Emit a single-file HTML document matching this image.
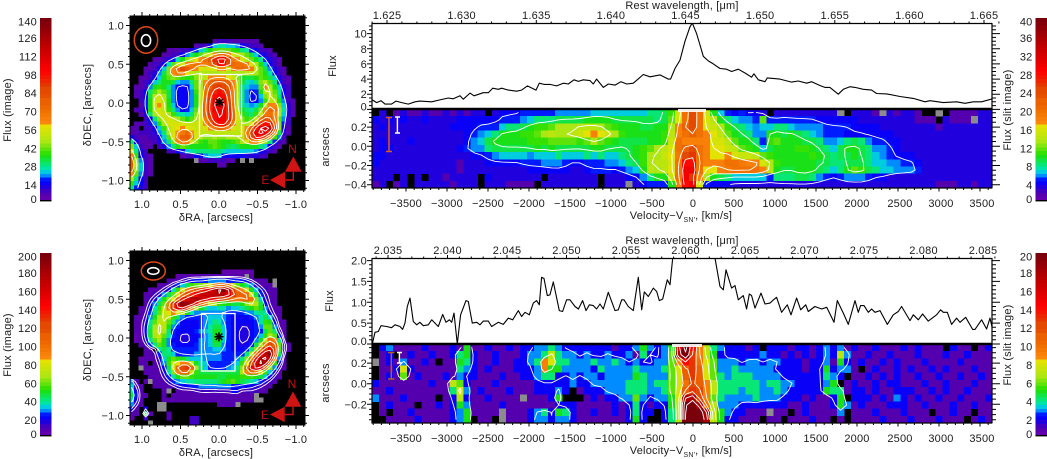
<!DOCTYPE html>
<html lang="en">
<head>
<meta charset="utf-8">
<title>Flux maps and slit spectra</title>
<style>
html,body{margin:0;padding:0;background:#fff;width:1047px;height:459px;overflow:hidden}
svg{display:block}
text{font-family:"Liberation Sans",sans-serif;font-size:11px;fill:#1c1c1c;letter-spacing:.2px}
</style>
</head>
<body>
<svg id="fig" xmlns="http://www.w3.org/2000/svg" width="1047" height="459" viewBox="0 0 1047 459">
  <rect x="0" y="0" width="1047" height="459" fill="#fff"/>
  <defs>
    <clipPath id="clipLine1"><rect x="372" y="24" width="620" height="85"/></clipPath>
    <clipPath id="clipLine2"><rect x="372" y="258" width="620" height="86"/></clipPath>
    <clipPath id="clipMap1"><rect x="130" y="16" width="175" height="174"/></clipPath>
    <clipPath id="clipMap2"><rect x="130" y="251" width="175" height="174"/></clipPath>
    <clipPath id="clipSlit1"><rect x="372" y="109" width="620" height="79"/></clipPath>
    <clipPath id="clipSlit2"><rect x="372" y="344" width="620" height="79"/></clipPath>
  </defs>
  <g id="layerHeat"></g>
  <g id="layerContour"></g>
  <g id="layerAxis"></g>

  <text transform="translate(11,110) rotate(-90)" text-anchor="middle">Flux (image)</text>
  <text transform="translate(11,345) rotate(-90)" text-anchor="middle">Flux (image)</text>
  <text transform="translate(1011,110) rotate(-90)" text-anchor="middle">Flux (slit image)</text>
  <text transform="translate(1011,345) rotate(-90)" text-anchor="middle">Flux (slit image)</text>

  <text transform="translate(91,105) rotate(-90)" text-anchor="middle">δDEC, [arcsecs]</text>
  <text transform="translate(91,340) rotate(-90)" text-anchor="middle">δDEC, [arcsecs]</text>
  <text x="216" y="221" text-anchor="middle">δRA, [arcsecs]</text>
  <text x="216" y="456" text-anchor="middle">δRA, [arcsecs]</text>

  <text x="682" y="9" text-anchor="middle">Rest wavelength, [μm]</text>
  <text x="682" y="244" text-anchor="middle">Rest wavelength, [μm]</text>
  <text x="681" y="219" text-anchor="middle">Velocity−V<tspan font-size="7" dy="3">SN'</tspan><tspan dy="-3">, [km/s]</tspan></text>
  <text x="681" y="454" text-anchor="middle">Velocity−V<tspan font-size="7" dy="3">SN'</tspan><tspan dy="-3">, [km/s]</tspan></text>

  <text transform="translate(336,66) rotate(-90)" text-anchor="middle">Flux</text>
  <text transform="translate(333,301) rotate(-90)" text-anchor="middle">Flux</text>
  <text transform="translate(329,147) rotate(-90)" text-anchor="middle">arcsecs</text>
  <text transform="translate(329,383) rotate(-90)" text-anchor="middle">arcsecs</text>

  <g id="overlayH">
    <ellipse cx="146" cy="40" rx="11.7" ry="13.3" fill="none" stroke="#e0481a" stroke-width="1.5"/>
    <ellipse cx="146" cy="40.5" rx="4.6" ry="5.8" fill="none" stroke="#fff" stroke-width="1.6"/>
    <rect x="199.5" y="74.5" width="42" height="61.5" fill="none" stroke="#fff" stroke-width="1.3"/>
    <path d="M215 102.4H224M219.5 98V107M216.2 99.2L222.8 105.6M222.8 99.2L216.2 105.6" stroke="#000" stroke-width="1.5" fill="none"/>
    <path d="M293.3 156.5L285 171.7H301.7Z" fill="#d01414"/>
    <path d="M270 180L285 171.7V188.3Z" fill="#d01414"/>
    <path d="M285 180H293.3V171.7" fill="none" stroke="#d01414" stroke-width="1.4"/>
    <text x="292.5" y="153" text-anchor="middle" style="fill:#c01010;font-size:12px">N</text>
    <text x="265.5" y="184" text-anchor="middle" style="fill:#c01010;font-size:12px">E</text>
  </g>
  <g id="overlayK">
    <ellipse cx="153.3" cy="271" rx="12" ry="9" fill="none" stroke="#e0481a" stroke-width="1.5"/>
    <ellipse cx="153.3" cy="271" rx="5.6" ry="3.3" fill="none" stroke="#fff" stroke-width="1.6"/>
    <rect x="201.5" y="313.5" width="33.5" height="57.5" fill="none" stroke="#fff" stroke-width="1.3"/>
    <path d="M214.5 336.8H223.5M219 332.4V341.4M215.7 333.6L222.3 340M222.3 333.6L215.7 340" stroke="#000" stroke-width="1.5" fill="none"/>
    <path d="M293 391.5L284.7 406.7H301.3Z" fill="#d01414"/>
    <path d="M270 414.5L284.7 406.7V422.3Z" fill="#d01414"/>
    <path d="M284.7 414.5H293V406.7" fill="none" stroke="#d01414" stroke-width="1.4"/>
    <text x="292" y="388" text-anchor="middle" style="fill:#c01010;font-size:12px">N</text>
    <text x="265" y="419" text-anchor="middle" style="fill:#c01010;font-size:12px">E</text>
  </g>
  <g>
    <path d="M386 117.5H392M389 117.5V151.5M386 151.5H392" stroke="#dd5a18" stroke-width="1.5" fill="none"/>
    <path d="M395 117H400M397.4 117V133M395 133H400" stroke="#fff" stroke-width="1.4" fill="none"/>
    <path d="M388 352.5H394.5M391.3 352.5V379M388 379H394.5" stroke="#b85a28" stroke-width="1.5" fill="none"/>
    <path d="M397 352.5H402M399.4 352.5V363M397 363H402" stroke="#fff" stroke-width="1.4" fill="none"/>
    <rect x="678" y="109" width="28" height="3" fill="#fff" opacity=".9"/>
    <rect x="672" y="344" width="30" height="3" fill="#fff" opacity=".9"/>
  </g>
</svg>
<script>
// ---------- axis tick labels ----------
const raTicks = [1.0, 0.5, 0.0, -0.5, -1.0];
const decTicks = [1.0, 0.5, 0.0, -0.5, -1.0];
const velocityTicks = [-3500, -3000, -2500, -2000, -1500, -1000, -500, 0, 500, 1000, 1500, 2000, 2500, 3000, 3500];
const wavelengthTicksH = [1.625, 1.630, 1.635, 1.640, 1.645, 1.650, 1.655, 1.660, 1.665];
const wavelengthTicksK = [2.035, 2.040, 2.045, 2.050, 2.055, 2.060, 2.065, 2.070, 2.075, 2.080, 2.085];
const fluxTicksH = [0, 2, 4, 6, 8, 10];
const fluxTicksK = [0.0, 0.5, 1.0, 1.5, 2.0];
const slitTicksH = [0.2, 0.0, -0.2, -0.4];
const slitTicksK = [0.2, 0.0, -0.2];
const barTicksMapH = [140, 126, 112, 98, 84, 70, 56, 42, 28, 14, 0];
const barTicksMapK = [200, 180, 160, 140, 120, 100, 80, 60, 40, 20, 0];
const barTicksSlitH = [40, 36, 32, 28, 24, 20, 16, 12, 8, 4, 0];
const barTicksSlitK = [20, 18, 16, 14, 12, 10, 8, 6, 4, 2, 0];

// ---------- integrated spectra: velocity (km/s) and flux ----------
const velocityH = [-3911,-3858,-3805,-3756,-3675,-3622,-3553,-3472,-3390,-3330,-3187,-3086,-2984,-2923,-2842,-2801,-2720,-2671,-2557,-2496,-2443,-2374,-2333,-2252,-2151,-2090,-2020,-1915,-1874,-1817,-1744,-1663,-1582,-1521,-1451,-1398,-1338,-1256,-1216,-1175,-1094,-1033,-951,-878,-809,-728,-606,-525,-403,-301,-273,-220,-159,-98,-37,-9,44,85,126,187,248,329,410,471,552,634,715,743,796,878,906,1060,1203,1284,1386,1447,1548,1609,1670,1772,1833,1914,1975,2077,2178,2239,2361,2524,2687,2829,2890,3052,3215,3317,3418,3520,3650];
const fluxH = [1.25,0.9,1.15,0.7,0.7,1.1,0.9,0.7,1.0,1.1,1.0,1.25,1.5,1.4,1.8,1.35,2.15,1.8,2.2,2.2,2.8,2.65,2.8,2.55,2.4,2.55,3.1,2.55,3.45,3.3,3.3,3.1,3.45,3.35,3.9,3.7,3.9,3.8,3.35,4.0,2.9,3.35,3.2,3.65,3.35,3.45,4.6,4.3,4.55,4.0,4.0,5.4,6.5,9.0,10.9,11.4,10.0,8.5,7.0,6.4,6.0,5.4,5.3,5.0,5.3,4.8,4.25,4.7,3.9,3.65,4.15,4.0,3.6,3.75,3.45,3.65,3.15,2.9,2.9,2.0,2.65,3.0,2.9,2.65,2.55,2.1,2.05,1.7,1.45,1.0,1.15,0.9,1.0,0.8,1.0,1.0,1.4];
const velocityK = [-3911,-3878,-3838,-3805,-3736,-3675,-3634,-3573,-3541,-3512,-3484,-3451,-3411,-3370,-3330,-3289,-3228,-3187,-3106,-3053,-3012,-2972,-2943,-2915,-2874,-2834,-2768,-2740,-2691,-2638,-2598,-2557,-2496,-2456,-2374,-2313,-2252,-2199,-2130,-2090,-2049,-1996,-1947,-1907,-1874,-1846,-1817,-1777,-1744,-1704,-1630,-1590,-1541,-1500,-1439,-1398,-1346,-1305,-1264,-1216,-1175,-1134,-1094,-1033,-951,-911,-870,-842,-789,-728,-667,-626,-594,-545,-484,-443,-411,-370,-313,-281,-248,-100,0,150,268,329,369,402,471,512,552,613,654,687,715,756,829,878,939,971,1020,1081,1150,1195,1264,1313,1374,1406,1487,1569,1630,1719,1760,1833,1894,1975,2016,2044,2085,2138,2178,2219,2280,2369,2443,2504,2544,2646,2687,2748,2800,2870,2971,3020,3052,3101,3154,3215,3256,3325,3410,3439,3520,3581,3622,3650];
const fluxK = [0,0.28,0.3,0.44,0.42,0.39,0.46,0.42,0.35,0.5,0.9,1.1,0.54,0.46,0.52,0.44,0.46,0.58,0.42,0.71,0.52,0.58,0.52,0.74,0,0.7,1.04,1.02,0.5,0.52,0.46,0.55,0.55,0.42,0.52,0.47,0.62,0.58,0.8,0.66,0.76,0.7,0.98,1.04,0.94,1.6,1.57,1.16,1.18,1.49,0.8,0.78,1.06,1.06,0.9,0.84,1.04,0.8,0.94,0.92,0.84,0.96,0.84,1.24,0.8,0.82,1.06,1.06,0.9,0.8,1.6,0.82,1.25,1.14,1.34,1.26,1.04,1.08,1.54,1.42,2.06,4,6,4,2.06,1.38,1.3,1.78,1.34,1.4,1.06,1.16,0.84,1.2,1.16,0.86,1.22,0.96,0.98,1.04,1.12,0.76,0.94,0.7,1.1,0.82,0.94,0.78,0.9,0.84,0.88,0.52,1.04,0.74,0.47,1.04,0.76,0.92,0.92,0.76,0.84,0.76,0.8,0.47,0.7,0.78,0.9,0.56,0.7,0.58,0.72,0.55,0.7,0.82,0.76,0.76,0.47,0.62,0.52,0.64,0.35,0.35,0.58,0.36,0.62,0.38];

// ---------- image maps: flux per spaxel (0 = no data/black, -1 = flagged/grey) ----------
const mapRowsH = [
[],[],[],[],[],
[0,0,0,0,0,0,0,0,0,0,0,0,0,0,0,0,0,0,6,8,8,8,7,6,7,6,6,5],
[0,0,0,0,0,0,0,0,0,0,0,0,0,0,6,8,10,14,22,26,26,24,22,20,16,12,10,8,6],
[0,0,0,0,0,0,0,0,5,6,7,8,10,12,18,24,30,36,40,42,42,40,38,34,30,26,18,14,10,8,5],
[0,0,0,0,0,0,0,6,7,8,10,14,20,28,34,42,50,56,64,72,72,64,56,50,46,40,32,24,16,12,8,6],
[0,0,0,0,0,6,7,9,12,18,26,34,44,50,58,62,70,78,92,100,104,88,68,62,56,48,42,34,26,18,12,8,6],
[0,0,0,0,6,8,10,16,26,40,50,56,62,68,70,66,66,70,88,98,100,84,72,70,70,66,56,46,36,24,14,9,7],
[0,0,0,6,7,9,14,24,44,62,72,84,78,70,60,54,52,54,56,60,60,56,66,74,72,70,66,52,42,32,20,12,8,6],
[0,0,0,6,8,12,20,32,44,60,66,64,58,50,46,46,46,48,48,48,50,48,46,48,48,50,52,46,42,34,26,16,10,7],
[0,0,5,7,10,16,24,34,40,44,42,38,36,38,44,46,50,60,62,62,62,58,52,44,36,32,32,34,40,38,32,22,12,8,6],
[0,0,6,8,12,22,30,36,36,32,24,19,19,30,42,48,60,72,80,82,80,74,60,46,34,26,24,30,44,50,40,30,18,10,7],
[0,5,7,10,20,34,38,36,30,20,16,15,15,24,40,50,66,80,88,90,86,80,64,46,30,22,19,20,42,62,46,36,22,12,8],
[0,5,8,14,28,42,46,40,32,19,16,15,15,20,38,50,70,84,94,100,94,84,68,48,30,20,16,17,36,50,50,40,26,16,8],
[0,5,8,16,32,50,54,46,32,19,16,15,15,19,36,50,72,88,100,104,100,86,68,48,28,19,16,15,24,44,52,44,30,18,8],
[0,0,8,18,36,54,56,48,34,20,16,15,15,19,36,52,74,90,106,112,106,88,68,48,28,19,16,15,20,38,50,50,36,20,10,6],
[0,0,7,18,36,54,62,54,36,22,16,15,16,19,36,54,76,92,106,112,108,90,70,48,30,22,20,24,34,50,64,62,44,24,12,7],
[0,5,8,16,34,52,56,50,38,28,20,16,18,22,40,56,76,94,104,108,104,92,72,50,34,28,26,32,44,62,72,66,48,26,12,7],
[0,0,7,12,28,46,54,52,46,38,30,26,22,28,44,56,72,90,100,106,106,92,74,54,38,32,30,38,52,66,70,60,46,24,12,6],
[0,0,0,8,16,30,44,52,54,52,46,40,36,40,48,56,68,84,100,106,106,94,72,54,44,38,40,52,72,84,80,62,42,20,10],
[0,6,7,8,12,20,34,46,54,56,56,54,52,52,52,54,62,74,92,100,100,86,66,52,46,48,56,72,92,100,96,72,44,18,8],
[6,7,0,9,10,14,24,38,50,56,58,60,58,56,52,52,54,60,68,72,72,64,56,52,52,60,76,96,108,114,118,84,44,16,7],
[5,7,8,8,8,12,20,30,46,56,62,68,72,62,54,50,50,50,50,50,50,50,50,50,52,66,88,108,112,106,90,62,32,12,6],
[16,8,7,7,8,10,14,24,40,58,68,76,78,68,54,46,44,44,46,44,44,46,48,48,50,62,84,100,96,84,64,38,20,9],
[30,14,7,7,7,9,12,20,30,44,60,68,66,54,44,38,36,40,42,38,36,36,38,42,46,54,60,62,54,44,30,18,10,6],
[44,22,8,7,6,0,10,12,20,28,36,40,38,36,34,34,34,38,42,38,34,32,30,32,34,36,36,34,30,24,16,10,7],
[58,30,12,8,0,0,0,0,8,10,14,18,22,26,28,30,30,30,30,28,26,24,24,24,24,24,22,20,16,12,8,6],
[68,38,14,8,5,0,0,0,0,0,0,6,8,10,14,16,20,24,24,22,16,14,14,14,14,12,12,12,10,8],
[76,48,20,10,5,0,0,0,0,0,0,0,0,0,-1,6,7,8,9,8,8,7,6,0,-1,0,-1],
[80,52,24,10,6,0,0,0,0,0,0,0,0,0,0,0,0,0,0,6,7],
[76,48,24,10,6],
[62,42,20,10,7],
[46,30,16,9],
[38,22,14,8],
[30,18,12,8]
];
const mapRowsK = [
[],[],[],[],
[0,0,0,0,0,0,0,0,0,0,0,0,0,0,0,0,0,0,0,0,6,6,6,6,6,6,6],
[0,0,0,0,0,0,0,0,0,0,6,8,8,8,8,8,8,8,8,8,8,8,8,8,8,-1,8],
[0,0,0,0,0,0,0,0,7,8,10,12,16,22,24,24,26,28,30,30,28,26,26,24,24,20,14,10,8,7,0,-1],
[0,0,0,0,0,0,8,10,12,18,26,34,44,54,60,64,68,80,96,110,110,90,70,60,50,40,28,16,10,8,7,-1],
[0,0,0,0,7,8,10,14,22,36,56,76,92,104,116,130,144,156,176,196,190,160,126,100,88,72,52,32,20,12,9,8],
[0,0,0,7,9,12,16,28,44,60,80,100,120,132,150,166,170,170,172,178,176,160,130,110,110,100,74,44,24,14,10,8],
[0,0,0,8,12,18,34,48,64,84,110,136,158,176,180,170,160,150,140,126,122,112,100,96,100,110,100,64,34,18,10,8],
[0,0,0,8,16,28,44,60,90,130,170,190,185,170,140,110,90,76,66,56,52,50,46,46,50,62,76,66,44,22,12,8],
[0,0,7,10,20,38,54,70,96,130,160,160,130,90,66,48,40,34,34,36,36,30,32,34,36,44,52,58,50,28,14,9,7],
[0,0,7,12,24,40,58,74,84,90,80,66,50,38,30,28,28,30,30,30,28,26,26,26,26,28,30,38,42,36,20,10,7],
[0,7,8,14,30,48,66,76,70,56,44,30,24,24,24,26,28,32,34,32,28,24,22,22,22,22,24,28,38,44,34,14,8],
[0,7,10,18,36,58,72,72,58,42,28,22,22,22,22,24,28,34,40,38,30,24,22,20,20,22,22,24,36,56,52,20,9,7],
[0,7,10,20,42,66,74,70,52,30,24,22,22,22,22,26,30,36,44,44,32,24,22,20,18,18,20,24,30,58,60,28,10,7],
[0,7,10,20,44,70,76,68,42,26,22,22,20,22,24,28,32,36,48,48,34,24,22,20,16,16,20,24,26,44,58,42,14,8],
[0,6,9,20,44,68,74,60,36,24,20,16,16,20,22,26,30,34,52,50,32,24,22,20,15,15,20,24,34,56,66,60,24,10],
[0,6,8,16,38,60,68,52,30,22,20,15,15,20,22,28,30,34,50,48,32,24,22,20,16,18,22,30,52,76,100,90,40,12],
[0,0,8,12,24,42,60,50,30,24,22,20,20,22,24,30,30,34,46,44,30,24,22,20,18,20,24,44,72,100,120,110,60,16,7],
[0,0,0,8,10,0,36,46,36,26,24,24,24,24,26,30,30,30,34,34,28,24,22,22,22,24,40,64,100,130,150,120,60,16,7],
[0,0,0,7,9,12,24,42,42,32,26,26,26,26,28,30,30,30,30,30,26,24,24,24,26,42,66,100,140,172,190,126,46,14],
[0,0,6,7,8,10,18,34,50,60,56,48,40,34,32,32,30,28,28,28,26,24,26,28,42,64,96,140,180,184,160,90,30,10],
[0,0,7,7,0,9,14,28,56,72,84,90,90,72,52,38,32,26,24,24,24,26,30,34,56,84,120,164,192,170,110,56,20,9],
[0,0,-1,8,8,8,12,22,46,78,104,122,128,104,66,42,32,26,24,24,26,30,34,40,64,104,150,170,150,104,62,30,14,8],
[0,0,0,7,8,8,10,18,36,62,90,108,104,76,54,44,46,46,44,44,44,44,44,46,66,92,104,96,80,56,34,18,10],
[0,0,0,0,7,7,9,14,24,36,50,60,60,54,50,48,50,48,48,46,46,50,50,52,56,56,56,52,44,32,20,12,8],
[28,10,0,7,-1,7,8,10,16,24,30,34,36,38,40,40,42,40,42,44,50,56,60,50,44,40,36,32,24,16,12,8],
[34,14,7,0,0,7,7,8,10,14,18,20,22,24,24,28,28,28,30,30,30,28,26,26,24,22,20,16,14,10,8],
[36,22,8,0,0,0,0,7,-1,0,8,10,9,10,12,14,14,14,12,14,14,14,20,20,10,12,14,12,10,8],
[44,24,8,7,0,0,0,7,0,7,7,8,8,8,8,8,8,8,8,8,8,8,8,8,8,7,8,-1],
[38,22,8,0,0,0,0,8,8,8,8,8,8,8,8,8,8,8,8,8,8,8,8,8,8,8,8,-1,-1],
[30,14,7,0,0,0,-1,-1,0,0,0,0,0,0,0,0,0,0,0,7,8,8,7,-1],
[20,8,0,20,0,0,-1,-1],
[10,7,0,46,8,0,0,0,8],
[6,0,0,12,0,0,0,0,8,0,0,0,0,14,14],
[0,0,0,0,-1,0,0,0,0,0,0,0,0,12,12]
];

// ---------- slit images: flux per row and velocity bin ----------
const slitRowsH = [
[0,3,0,2,3,2,2,3,2,2,3,2,3,2,3,3,0,3,4,4,4,5,5,5,5,5,6,6,6,6,6,7,7,7,7,7,7,7,7,8,8,9,11,16,20,24,20,16,10,7,5,4,5,4,4,3,0,3,3,3,3,3,3,3,3,3,-1,0,3,3,3,2,-1,3,2,3,3,2,0,0,-1,0,2,2,2,2,3,3],
[4,3,4,3,4,3,3,4,3,3,3,3,4,4,4,4,4,4,5,5,5,6,7,8,8,8,9,9,9,9,10,10,10,10,9,9,9,9,9,9,8,9,12,16,20,24,20,16,14,10,8,7,6,6,5,12,5,5,5,5,5,5,5,4,4,4,4,4,4,3,3,3,3,3,3,3,3,2,2,2,0,3,2,2,2,-1,3,3],
[3,4,3,3,3,3,3,3,3,3,3,4,4,4,4,5,5,5,7,8,8,9,10,11,11,12,13,13,13,14,14,14,13,12,11,10,10,10,9,9,10,10,13,18,22,24,20,16,15,13,11,9,8,7,6,7,7,8,8,7,6,6,6,6,5,5,5,5,4,4,4,4,3,3,3,3,3,3,3,3,2,3,3,3,3,3,3,3],
[3,3,3,3,3,3,3,3,3,3,3,3,3,4,5,6,7,8,10,10,10,11,11,12,13,14,13,13,14,15,17,18,17,15,13,11,10,10,10,10,10,11,14,18,20,22,20,18,17,14,12,10,9,8,6,6,10,10,9,10,9,8,7,6,5,5,5,4,4,4,4,4,4,4,3,3,3,3,3,3,3,3,3,3,3,3,3,3],
[3,4,3,3,3,4,3,3,3,3,3,3,3,4,6,7,9,10,10,10,10,10,11,11,11,12,12,12,12,11,12,13,12,11,10,9,9,9,9,10,10,11,15,20,18,18,18,18,16,16,14,12,10,10,8,5,11,12,10,10,10,9,9,8,6,6,7,8,9,8,6,5,5,4,4,3,3,3,3,3,3,3,3,3,3,3,3,3],
[3,4,4,3,3,3,3,3,3,3,3,3,4,5,6,6,8,9,9,9,9,9,9,10,9,10,9,9,9,9,9,10,10,9,9,9,9,10,11,12,13,14,16,20,22,24,20,18,17,17,15,14,12,11,10,7,9,10,10,10,11,11,10,9,8,7,9,10,10,9,8,6,6,5,4,3,3,3,3,3,3,3,3,3,3,3,3,3],
[4,4,3,3,3,3,3,3,3,3,3,3,3,3,4,4,5,6,7,7,7,7,6,7,7,7,8,7,7,7,8,7,8,7,7,8,9,10,11,13,13,15,17,19,24,26,20,18,17,17,18,16,15,15,14,12,11,10,10,10,10,10,11,10,9,8,9,9,10,9,8,7,6,5,4,4,4,3,3,3,3,3,3,3,3,3,3,3],
[4,3,3,3,3,3,3,3,3,3,3,3,2,3,3,3,4,4,4,4,4,5,5,5,6,6,6,5,4,4,5,5,5,6,6,7,8,9,11,13,14,14,16,20,28,28,20,18,18,18,20,20,19,18,18,16,13,11,10,10,10,10,10,9,9,8,8,9,9,9,8,7,7,6,6,5,5,4,3,3,3,3,3,3,3,3,3,3],
[3,3,3,3,3,3,3,3,3,3,3,3,2,3,3,3,3,3,3,3,3,3,4,4,4,4,4,4,3,3,4,5,5,5,4,5,6,7,10,14,13,14,17,20,30,30,20,17,17,18,19,20,20,20,20,18,14,10,9,9,10,10,10,9,8,7,8,10,12,11,9,8,7,7,6,6,6,5,3,3,3,3,3,3,3,3,3,3],
[3,3,3,0,3,0,3,0,3,3,2,3,3,3,3,0,4,3,3,3,3,3,3,3,0,3,3,3,3,3,3,3,0,3,3,3,4,4,6,8,10,10,15,20,30,26,18,13,10,9,8,7,7,7,7,7,5,8,8,8,9,9,8,6,5,4,5,6,6,6,5,4,4,3,3,3,3,3,3,3,3,3,3,3,3,3,3,3],
[2,3,0,2,3,0,3,3,3,3,3,2,3,3,3,0,3,3,3,2,2,2,2,0,3,3,3,3,3,3,3,3,0,3,3,3,-1,3,4,5,5,5,10,18,28,30,16,5,4,4,4,3,3,3,3,3,3,3,3,3,3,3,3,3,3,3,3,3,3,3,3,3,3,3,3,3,3,3,3,3,2,2,2,3,3,2,3,3]
];
const slitRowsK = [
[0,2,3,1,1,1,1,2,1,1,1,2,1,5,1,1,2,1,1,2,1,2,2,3,3,4,3,2,2,2,2,2,2,2,1,2,2,3,5,3,2,3,5,16,20,14,9,7,4,3,2,2,2,1,2,0,2,2,2,1,2,2,1,2,3,2,3,1,2,1,1,2,1,1,1,2,1,2,1,1,1,0,2,1,1,0,1,2],
[0,1,2,0,1,2,1,1,2,1,1,2,4,5,2,1,1,2,1,1,1,2,3,3,4,7,4,3,3,2,3,2,2,3,2,2,3,1,4,2,2,3,6,18,20,13,9,7,5,2,2,2,2,2,2,3,2,2,1,2,1,2,1,2,3,2,7,3,1,1,2,1,1,2,1,1,1,2,1,1,1,2,1,1,2,1,1,1],
[-1,1,2,1,3,1,1,2,1,0,1,1,5,4,2,1,1,2,1,1,2,2,3,4,9,8,4,4,3,3,3,4,3,3,4,3,2,3,2,2,3,3,6,9,14,13,10,8,6,3,3,3,2,3,3,2,3,3,2,2,2,1,2,2,3,1,5,2,1,2,1,1,2,1,2,1,1,1,2,1,1,1,1,2,1,1,1,1],
[0,1,1,2,8,2,1,1,1,1,1,1,4,3,2,1,2,1,1,1,2,2,2,3,9,5,5,3,3,3,3,2,4,3,3,3,3,4,3,3,3,4,6,8,11,13,11,8,6,3,3,4,3,3,3,3,3,2,2,2,2,1,2,2,5,2,3,3,1,0,1,2,1,1,2,1,2,1,1,2,1,2,1,1,1,2,1,1],
[0,1,2,1,6,1,2,1,1,1,2,1,3,2,2,1,1,1,2,1,1,2,2,3,4,4,2,2,3,2,3,3,2,3,3,3,3,5,4,3,3,3,6,8,11,13,11,8,6,4,3,4,4,4,3,3,3,3,2,2,2,2,2,2,4,3,2,0,1,1,2,1,2,1,2,1,1,2,1,1,2,1,1,2,1,1,2,1],
[2,1,1,1,1,1,1,1,2,1,1,7,6,2,1,1,1,2,1,1,1,1,1,2,2,2,2,2,3,2,2,3,3,3,3,3,4,4,4,3,4,4,6,8,10,12,11,9,7,4,4,4,4,4,4,3,4,4,3,3,2,2,2,2,3,5,0,1,2,1,1,2,1,2,2,1,1,1,2,1,1,2,1,1,1,2,1,1],
[1,1,2,1,1,1,1,1,1,1,1,4,8,3,1,2,1,1,1,2,1,1,1,2,2,2,3,2,0,1,2,2,2,3,3,3,4,4,4,3,3,4,6,8,11,13,12,9,7,4,4,4,3,4,4,3,3,4,3,2,2,2,2,2,5,4,4,1,2,2,1,2,1,1,2,2,2,1,1,2,1,2,1,1,2,1,1,1],
[3,1,1,1,2,1,1,1,1,0,1,2,7,2,1,1,2,1,1,1,1,-1,1,1,1,2,5,0,0,0,1,2,1,2,2,3,3,6,3,2,3,3,5,8,18,18,12,9,6,4,3,3,3,3,4,3,3,3,2,2,2,1,2,1,1,2,5,0,2,2,2,1,2,1,3,2,1,2,1,1,2,1,1,2,1,1,1,2],
[0,1,2,1,1,1,0,1,1,2,1,2,5,3,1,1,1,1,2,1,1,1,1,1,1,1,2,2,2,1,1,1,1,1,2,1,2,4,2,1,2,2,5,7,20,20,18,10,7,3,3,3,2,2,2,2,2,2,2,1,1,2,1,1,1,2,5,3,1,2,1,1,1,2,2,2,1,1,2,1,1,1,2,1,1,2,1,1],
[0,1,0,1,1,2,1,1,1,1,1,2,3,5,1,1,1,1,-1,1,1,1,2,3,4,2,5,4,2,1,1,2,1,1,2,1,2,4,2,2,0,2,4,7,20,20,20,18,7,5,3,2,2,1,1,1,-1,1,1,0,1,2,1,1,1,1,3,0,1,1,1,2,1,1,1,2,1,1,1,0,1,1,2,1,1,0,1,1],
[0,0,1,1,1,1,2,1,1,1,1,2,3,5,0,1,1,0,-1,1,1,1,2,3,3,2,3,3,2,1,1,1,1,1,1,1,2,5,2,0,0,2,4,7,20,20,20,18,7,5,2,2,1,1,1,0,1,1,0,1,1,1,2,1,1,0,1,0,1,1,1,1,2,1,1,1,2,1,1,1,2,1,1,1,0,1,2,1]
];

// ---------- contour levels ----------
const contourLevelsMapH = [18, 48, 62, 76, 90, 104];
const contourLevelsMapK = [13, 18.5, 30, 70, 95, 120, 145, 170];
const contourLevelsSlitH = [4.6, 9, 13, 17, 21, 25];
const contourLevelsSlitK = [2.5, 5.5, 7.5, 9.5, 11.5, 13.5, 15.5, 17.5];

// ---------- colour table (fraction of max, r, g, b) ----------
const colorStops = [
  [0,112,0,170],[0.05,80,0,176],[0.1,10,0,245],[0.12,0,0,255],[0.155,0,190,255],[0.19,0,232,160],[0.26,30,224,0],
  [0.33,170,230,20],[0.425,232,226,0],[0.4251,255,140,16],[0.5,240,112,0],[0.63,224,64,0],
  [0.72,255,0,0],[0.86,190,0,0],[1,122,0,12]
];
const BAND_COUNT = 48;

const NS = 'http://www.w3.org/2000/svg';
const heatLayer = document.getElementById('layerHeat');
const contourLayer = document.getElementById('layerContour');
const axisLayer = document.getElementById('layerAxis');

function colorFor(fraction) {
  const f = Math.max(0, Math.min(1, Math.floor(fraction * BAND_COUNT + 0.5) / BAND_COUNT));
  for (let i = 1; i < colorStops.length; i++) {
    const a = colorStops[i - 1], b = colorStops[i];
    if (f <= b[0]) {
      const t = (f - a[0]) / (b[0] - a[0] || 1);
      return 'rgb(' + [1, 2, 3].map(k => Math.round(a[k] + (b[k] - a[k]) * t)).join(',') + ')';
    }
  }
  return 'rgb(122,0,12)';
}

function cellColor(value, max) {
  if (value === -1) return '#8c8c8c';
  if (!value) return '#000';
  return colorFor(value / max);
}

function addRect(parent, name, x, y, w, h, fill) {
  const el = document.createElementNS(NS, 'rect');
  
  
  el.setAttribute('x', x.toFixed(2));
  el.setAttribute('y', y.toFixed(2));
  el.setAttribute('width', w.toFixed(2));
  el.setAttribute('height', h.toFixed(2));
  el.setAttribute('fill', fill);
  el.setAttribute('shape-rendering', 'crispEdges');
  parent.appendChild(el);
  return el;
}

function addText(name, x, y, str, anchor) {
  const el = document.createElementNS(NS, 'text');
  
  
  el.setAttribute('x', x.toFixed(1));
  el.setAttribute('y', y.toFixed(1));
  el.setAttribute('text-anchor', anchor);
  el.textContent = str;
  axisLayer.appendChild(el);
  return el;
}

function addPath(parent, name, d, stroke, width, clip) {
  const el = document.createElementNS(NS, 'path');
  
  
  el.setAttribute('d', d);
  el.setAttribute('fill', 'none');
  el.setAttribute('stroke', stroke);
  el.setAttribute('stroke-width', width);
  el.setAttribute('stroke-linejoin', 'round');
  if (clip) el.setAttribute('clip-path', 'url(#' + clip + ')');
  parent.appendChild(el);
  return el;
}

// Contours are traced from the same arrays the heat cells use.
function contourPaths(rows, nCols, levels, xc, yc, name, clip) {
  const nRows = rows.length;
  const raw = rows.map(r => { const o = []; for (let c = 0; c < nCols; c++) { const v = r[c]; o.push(v > 0 ? v : 0); } return o; });
  const field = raw.map((r, i) => r.map((v, j) => {
    let sum = 0, wt = 0;
    for (let di = -1; di <= 1; di++) for (let dj = -1; dj <= 1; dj++) {
      const rr = raw[i + di]; if (!rr || rr[j + dj] === undefined) continue;
      const w = (di ? 1 : 2) * (dj ? 1 : 2); sum += rr[j + dj] * w; wt += w;
    }
    return (v * 4 + sum) / (4 + wt);
  }));
  levels.forEach(level => {
    let d = '';
    for (let i = 0; i < nRows - 1; i++) for (let j = 0; j < nCols - 1; j++) {
      const a = field[i][j], b = field[i][j + 1], c = field[i + 1][j + 1], e = field[i + 1][j];
      const pts = [];
      if ((a < level) !== (b < level)) pts.push([xc(j + (level - a) / (b - a)), yc(i)]);
      if ((b < level) !== (c < level)) pts.push([xc(j + 1), yc(i + (level - b) / (c - b))]);
      if ((e < level) !== (c < level)) pts.push([xc(j + (level - e) / (c - e)), yc(i + 1)]);
      if ((a < level) !== (e < level)) pts.push([xc(j), yc(i + (level - a) / (e - a))]);
      for (let k = 0; k + 1 < pts.length; k += 2) {
        d += 'M' + pts[k][0].toFixed(1) + ' ' + pts[k][1].toFixed(1) + 'L' + pts[k + 1][0].toFixed(1) + ' ' + pts[k + 1][1].toFixed(1);
      }
    }
    if (d) addPath(contourLayer, name, d, '#fff', 0.9, clip).setAttribute('stroke-linecap', 'round');
  });
}

function drawHeat(rows, nCols, max, left, top, cw, ch, levels, name, clip) {
  rows.forEach((row, r) => {
    for (let c = 0; c < nCols; c++) {
      const v = row[c] === undefined ? 0 : row[c];
      if (!v) continue;
      addRect(heatLayer, name + '-cell', left + c * cw, top + r * ch, cw + 0.3, ch + 0.3, cellColor(v, max));
    }
  });
  contourPaths(rows, nCols, levels, i => left + (i + 0.5) * cw, i => top + (i + 0.5) * ch, name + '-contour', clip);
}

function drawColorbar(top, ticks, max, name) {
  const left = 0;
  const barX = name.indexOf('slit') >= 0 ? 1035.5 : 40;
  const bottom = top + 182;
  for (let i = 0; i < BAND_COUNT; i++) {
    const f0 = i / BAND_COUNT;
    const h = 182 / BAND_COUNT;
    addRect(heatLayer, name + '-band', barX, bottom - (i + 1) * h, 11.5, h + 0.4, colorFor(f0 + 0.5 / BAND_COUNT));
  }
  addRect(heatLayer, name + '-floor', barX, bottom, 11.5, 1, '#000');
  addRect(heatLayer, name + '-base', barX, bottom + 1, 11.5, 1, '#999');
  const scale = v => Math.max(top + 3.7, Math.min(top + 181, top + 185.4 - (v / max) * 183.6));
  ticks.forEach(v => {
    addText(name + '-label', barX - 3 + left, scale(v) + 4, String(v), 'end');
  });
}

// ---------- axis functions ----------
const raScale = ra => 219 - 77 * ra;
const decScale = (dec, y0) => y0 - 77.5 * dec;
const velScale = v => 693 + 0.082 * v;

function tickRun(from, to, step, fn) {
  const n = Math.round((to - from) / step);
  for (let i = 0; i <= n; i++) fn(from + i * step);
}

function drawMapAxes(y0, left, right, top, bottom, suffix) {
  let d = '';
  tickRun(-1.1, 1.1, 0.1, ra => {
    const x = raScale(ra), major = Math.abs(ra * 2 - Math.round(ra * 2)) < 1e-6, len = major ? 4 : 2;
    d += 'M' + x.toFixed(1) + ' ' + top + 'v-' + len + 'M' + x.toFixed(1) + ' ' + bottom + 'v' + len;
  });
  tickRun(-1.1, 1.1, 0.1, dec => {
    const y = decScale(dec, y0), major = Math.abs(dec * 2 - Math.round(dec * 2)) < 1e-6, len = major ? 4 : 2;
    if (y < top || y > bottom) return;
    d += 'M' + left + ' ' + y.toFixed(1) + 'h-' + len + 'M' + right + ' ' + y.toFixed(1) + 'h' + len;
  });
  addPath(axisLayer, 'map-ticks-' + suffix, d, '#000', 1);
  const frame = document.createElementNS(NS, 'rect');
  
  
  frame.setAttribute('x', left);
  frame.setAttribute('y', top);
  frame.setAttribute('width', right - left);
  frame.setAttribute('height', bottom - top);
  frame.setAttribute('fill', 'none');
  frame.setAttribute('stroke', '#000');
  axisLayer.appendChild(frame);
  raTicks.forEach(v => addText('ra-tick-label', raScale(v), bottom + 18, v.toFixed(1).replace('-', '−'), 'middle'));
  decTicks.forEach(v => addText('dec-tick-label', 124, decScale(v, y0) + 4, v.toFixed(1).replace('-', '−'), 'end'));
}

function drawSpectrumPanel(cfg) {
  const L = 372, R = 992;
  const yF = f => cfg.y0 - cfg.k * f;
  const ySlit = a => cfg.slitY0 - cfg.slitK * a;
  const wl = w => cfg.wlRef + (w - cfg.wlBase) * cfg.wlK;
  let line = '';
  cfg.vel.forEach((v, i) => { line += (i ? 'L' : 'M') + velScale(v).toFixed(1) + ' ' + yF(cfg.flux[i]).toFixed(1); });
  addPath(axisLayer, 'spectrum-line-' + cfg.id, line, '#000', 1.1, cfg.clip);

  let d = '';
  tickRun(-3900, 3600, 100, v => {
    const major = v % 500 === 0, x = velScale(v).toFixed(1);
    d += 'M' + x + ' ' + cfg.slitBottom + 'v' + (major ? 3.5 : 2);
  });
  tickRun(cfg.wlFrom, cfg.wlTo, 0.001, w => {
    const major = Math.abs(w * 200 - Math.round(w * 200)) < 1e-4, x = wl(w).toFixed(1);
    d += 'M' + x + ' ' + cfg.top + 'v-' + (major ? 3.5 : 2);
  });
  tickRun(0, cfg.fluxMax, cfg.fluxMinor, f => {
    const major = Math.abs(f / cfg.fluxMajor - Math.round(f / cfg.fluxMajor)) < 1e-6, y = yF(f).toFixed(1);
    if (yF(f) < cfg.top) return;
    d += 'M' + L + ' ' + y + 'h-' + (major ? 5 : 3) + 'M' + R + ' ' + y + 'h' + (major ? 8 : 4);
  });
  tickRun(cfg.slitFrom, cfg.slitTo, 0.05, a => {
    const major = Math.abs(a * 5 - Math.round(a * 5)) < 1e-6, y = ySlit(a).toFixed(1);
    d += 'M' + L + ' ' + y + 'h-' + (major ? 5 : 3) + 'M' + R + ' ' + y + 'h' + (major ? 8 : 4);
  });
  addPath(axisLayer, 'spectrum-ticks-' + cfg.id, d, '#000', 1);
  addPath(axisLayer, 'spectrum-frame-' + cfg.id, 'M' + L + ' ' + cfg.boundary + 'V' + cfg.top + 'H' + R + 'V' + cfg.slitBottom + 'M' + L + ' ' + cfg.boundary + 'V' + cfg.slitBottom + 'H' + R, '#000', 1.2);
  addPath(axisLayer, 'spectrum-slit-divider-' + cfg.id, 'M' + L + ' ' + cfg.boundary + 'H' + R, '#000', 2.4);

  velocityTicks.forEach(v => addText('velocity-tick-label', velScale(v) + (v > 2000 ? 2 : 0), cfg.velLabelY, String(v).replace('-', '−'), 'middle'));
  cfg.wlTicks.forEach(w => addText('wavelength-tick-label', wl(w), cfg.wlLabelY, w.toFixed(3), 'middle'));
  cfg.fluxTicks.forEach(f => addText('flux-tick-label', 367, yF(f) + (f === 0 ? 1 : 4), f.toFixed(cfg.fluxDigits), 'end'));
  cfg.slitTicks.forEach(a => addText('slit-tick-label', 367, ySlit(a) + 4, a.toFixed(1).replace('-', '−'), 'end'));
}

// ---------- build ----------
const MAP_LEFT = 129.5, MAP_CELL_W = 175 / 38, MAP_CELL_H = 174 / 38;
drawHeat(mapRowsH, 38, 140, MAP_LEFT, 16, MAP_CELL_W, MAP_CELL_H, contourLevelsMapH, 'map-h', 'clipMap1');
drawHeat(mapRowsK, 38, 200, MAP_LEFT, 251, MAP_CELL_W, MAP_CELL_H, contourLevelsMapK, 'map-k', 'clipMap2');
heatLayer.insertBefore(addRect(heatLayer, 'map-background-h', 130, 16, 175, 174, '#000'), heatLayer.firstChild);
heatLayer.insertBefore(addRect(heatLayer, 'map-background-k', 130, 251, 175, 174, '#000'), heatLayer.firstChild);

const SLIT_CELL_W = 620 / 88, SLIT_CELL_H = 79 / 11;
drawHeat(slitRowsH, 88, 40, 372, 109, SLIT_CELL_W, SLIT_CELL_H, contourLevelsSlitH, 'slit-h', 'clipSlit1');
drawHeat(slitRowsK, 88, 20, 372, 344, SLIT_CELL_W, SLIT_CELL_H, contourLevelsSlitK, 'slit-k', 'clipSlit2');
heatLayer.insertBefore(addRect(heatLayer, 'slit-background-h', 372, 109, 620, 79, '#000'), heatLayer.firstChild);
heatLayer.insertBefore(addRect(heatLayer, 'slit-background-k', 372, 344, 620, 79, '#000'), heatLayer.firstChild);

drawColorbar(18, barTicksMapH, 140, 'colorbar-map-h');
drawColorbar(253, barTicksMapK, 200, 'colorbar-map-k');
drawColorbar(18, barTicksSlitH, 40, 'colorbar-slit-h');
drawColorbar(253, barTicksSlitK, 20, 'colorbar-slit-k');

drawMapAxes(103, 130, 305, 16, 190, 'h');
drawMapAxes(338, 130, 305, 251, 425, 'k');

drawSpectrumPanel({ id: 'h', vel: velocityH, flux: fluxH, clip: 'clipLine1', top: 23.5, boundary: 109, slitBottom: 188,
  y0: 109.4, k: 7.58, fluxMax: 11, fluxMinor: 0.5, fluxMajor: 2, fluxTicks: fluxTicksH, fluxDigits: 0,
  slitY0: 146.3, slitK: 96, slitFrom: -0.4, slitTo: 0.35, slitTicks: slitTicksH,
  wlRef: 387, wlBase: 1.625, wlK: 14925, wlFrom: 1.624, wlTo: 1.666, wlTicks: wavelengthTicksH,
  velLabelY: 207, wlLabelY: 19 });
drawSpectrumPanel({ id: 'k', vel: velocityK, flux: fluxK, clip: 'clipLine2', top: 258.5, boundary: 344, slitBottom: 423,
  y0: 344, k: 41.7, fluxMax: 2, fluxMinor: 0.1, fluxMajor: 0.5, fluxTicks: fluxTicksK, fluxDigits: 1,
  slitY0: 383.7, slitK: 103, slitFrom: -0.35, slitTo: 0.35, slitTicks: slitTicksK,
  wlRef: 388, wlBase: 2.035, wlK: 11900, wlFrom: 2.034, wlTo: 2.086, wlTicks: wavelengthTicksK,
  velLabelY: 442, wlLabelY: 254 });
</script>
</body>
</html>
